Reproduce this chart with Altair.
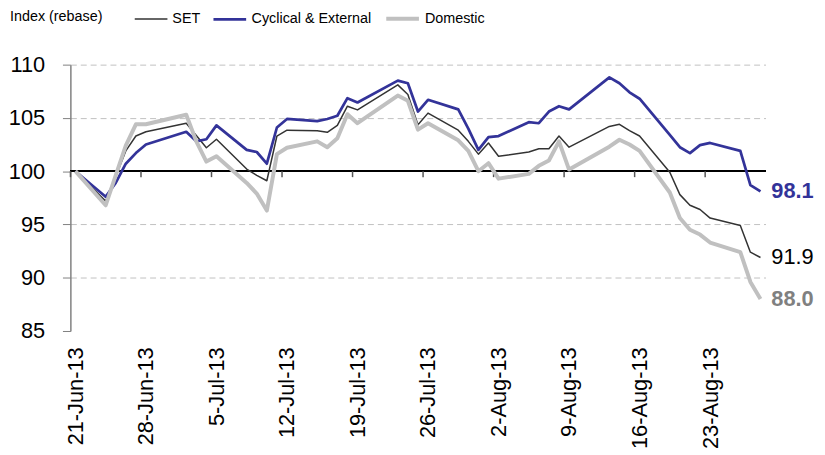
import altair as alt
import pandas as pd

# ---------------- data ----------------
dates = ["2013-06-21", "2013-06-24", "2013-06-25", "2013-06-26", "2013-06-27", "2013-06-28",
         "2013-07-02", "2013-07-03", "2013-07-04", "2013-07-05",
         "2013-07-08", "2013-07-09", "2013-07-10", "2013-07-11", "2013-07-12",
         "2013-07-15", "2013-07-16", "2013-07-17", "2013-07-18", "2013-07-19",
         "2013-07-23", "2013-07-24", "2013-07-25", "2013-07-26",
         "2013-07-29", "2013-07-30", "2013-07-31", "2013-08-01", "2013-08-02",
         "2013-08-05", "2013-08-06", "2013-08-07", "2013-08-08", "2013-08-09",
         "2013-08-13", "2013-08-14", "2013-08-15", "2013-08-16",
         "2013-08-19", "2013-08-20", "2013-08-21", "2013-08-22", "2013-08-23",
         "2013-08-26", "2013-08-27", "2013-08-28"]

set_index = [100.0, 97.2, 99.5, 101.9, 103.3, 103.7,
             104.5, 103.35, 102.2, 103.0,
             100.2, 99.6, 99.1, 103.3, 103.85,
             103.8, 103.65, 104.3, 106.1, 105.75,
             108.1, 107.2, 104.35, 105.45,
             103.85, 102.8, 101.6, 102.65, 101.4,
             101.8, 102.1, 102.1, 103.3, 102.25,
             104.2, 104.4, 103.8, 103.3,
             99.9, 97.8, 96.8, 96.4, 95.6,
             94.9, 92.4, 91.9]

cyclical = [100.0, 97.6, 98.9, 100.7, 101.7, 102.5,
            103.7, 102.8, 103.0, 104.3,
            102.0, 101.8, 100.7, 104.1, 104.9,
            104.7, 104.9, 105.2, 106.85, 106.45,
            108.5, 108.25, 105.6, 106.7,
            105.8, 104.0, 102.0, 103.2, 103.3,
            104.6, 104.5, 105.6, 106.1, 105.8,
            108.8, 108.25, 107.4, 106.8,
            103.4, 102.25, 101.7, 102.45, 102.65,
            101.9, 98.7, 98.1]

domestic = [100.0, 96.8, 99.6, 102.4, 104.4, 104.4,
            105.3, 102.8, 100.9, 101.4,
            98.9, 97.9, 96.3, 101.6, 102.2,
            102.8, 102.25, 103.1, 105.35, 104.5,
            107.1, 106.6, 103.9, 104.5,
            102.9, 101.9, 100.0, 100.75, 99.3,
            99.75, 100.5, 101.0, 102.8, 100.15,
            102.3, 102.95, 102.5, 101.9,
            98.0, 95.6, 94.5, 94.05, 93.3,
            92.4, 89.6, 88.0]

series_names = ["SET", "Cyclical & External", "Domestic"]
line_colors = ["#333333", "#333399", "#C0C0C0"]
line_widths = [1.5, 4.0, 4.0]
label_colors = ["#000000", "#333399", "#808080"]
label_weights = ["normal", "bold", "bold"]

tick_label_dates = ["2013-06-21", "2013-06-28", "2013-07-05", "2013-07-12", "2013-07-19",
                    "2013-07-26", "2013-08-02", "2013-08-09", "2013-08-16", "2013-08-23"]
y_ticks = [85, 90, 95, 100, 105, 110]
y_title = "Index (rebase)"

# ---------------- tables ----------------
rows = []
for name, vals in zip(series_names, [set_index, cyclical, domestic]):
    for d, v in zip(dates, vals):
        rows.append({"date": d, "series": name, "value": v})
df = pd.DataFrame(rows)
last = df[df["date"] == dates[-1]]
ticks_df = pd.DataFrame({"date": tick_label_dates})


def dt(s, hours=0):
    y, m, d = (int(p) for p in s.split("-"))
    return alt.DateTime(year=y, month=m, date=d, hours=hours, utc=True)


x_domain = [dt("2013-06-20", 12), dt("2013-08-28", 12)]
x_scale = alt.Scale(type="utc", domain=x_domain)
y_scale = alt.Scale(domain=[85, 110], nice=False, zero=False)

FONT = "Liberation Sans"
LEG_SIZE = 14.5

x_enc = alt.X("date:T", scale=x_scale, title=None,
              axis=alt.Axis(values=[dt(s) for s in tick_label_dates],
                            labelExpr="utcFormat(datum.value, '%-d-%b-%y')",
                            labelAngle=270, labelFont=FONT, labelFontSize=22,
                            labelColor="#000000", labelPadding=16,
                            ticks=False, domain=False, grid=False))
y_enc = alt.Y("value:Q", scale=y_scale, title=None,
              axis=alt.Axis(values=y_ticks, labelFont=FONT, labelFontSize=22,
                            labelColor="#000000", labelPadding=18,
                            tickSize=8, tickColor="#808080",
                            domainColor="#808080", domainWidth=1.5,
                            grid=True, gridColor="#C0C0C0", gridDash=[6, 4],
                            gridOpacity=alt.condition("datum.value == 85 || datum.value == 100",
                                                      alt.value(0), alt.value(1))))

legend = alt.Legend(orient="none", legendX=64, legendY=-65, direction="horizontal",
                    title=None, symbolType="stroke", symbolSize=1089,
                    labelFont=FONT, labelFontSize=LEG_SIZE, labelColor="#000000",
                    labelOffset=4, columnPadding=7, padding=0)

lines = alt.Chart(df).mark_line(strokeJoin="round").encode(
    x=x_enc,
    y=y_enc,
    color=alt.Color("series:N", scale=alt.Scale(domain=series_names, range=line_colors),
                    legend=legend),
    strokeWidth=alt.StrokeWidth("series:N",
                                scale=alt.Scale(domain=series_names, range=line_widths),
                                legend=legend),
)

axis100 = alt.Chart(df).mark_rule(color="#000000", strokeWidth=1.5).encode(
    y=alt.datum(100))

xticks = alt.Chart(ticks_df).mark_rule(color="#555555", strokeWidth=1.5, xOffset=-5).encode(
    x=alt.X("date:T", scale=x_scale), y=alt.datum(100), y2=alt.datum(99.44))

end_layers = []
for name, col, wt in zip(series_names, label_colors, label_weights):
    end_layers.append(
        alt.Chart(last[last["series"] == name]).mark_text(
            align="left", baseline="middle", dx=11, font=FONT, fontSize=22,
            fontWeight=wt, color=col).encode(
            x=alt.X("date:T", scale=x_scale),
            y=alt.Y("value:Q", scale=y_scale),
            text=alt.Text("value:Q", format=".1f")))

y_title_layer = alt.Chart(pd.DataFrame({"t": [y_title]})).mark_text(
    align="left", baseline="middle", font=FONT, fontSize=LEG_SIZE, color="#000000").encode(
    x=alt.value(-61), y=alt.value(-48), text="t:N")

chart = alt.layer(axis100, xticks, lines, *end_layers, y_title_layer).properties(
    width=702, height=269,
    autosize=alt.AutoSizeParams(type="none"),
    padding={"left": 63, "top": 55, "right": 52, "bottom": 120},
).configure_view(stroke=None)

chart.save("out.html", embed_options={"renderer": "svg", "actions": False})
